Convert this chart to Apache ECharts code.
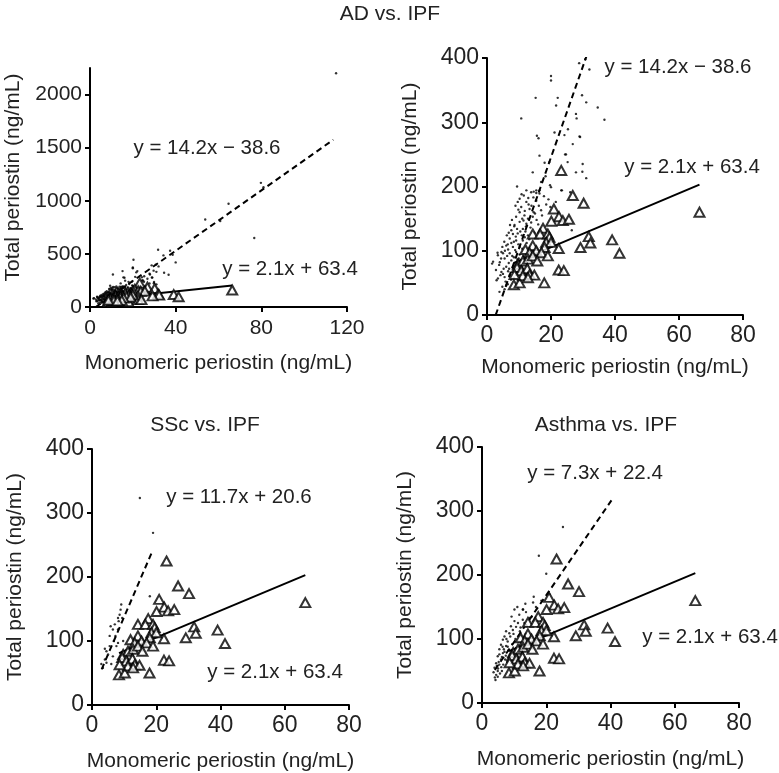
<!DOCTYPE html>
<html>
<head>
<meta charset="utf-8">
<script src="https://cdn.jsdelivr.net/npm/echarts@6/dist/echarts.min.js"></script>
<style>
html,body{margin:0;padding:0;background:#fff;}
#chart{width:779px;height:773px;}
</style>
</head>
<body>
<div id="chart"></div>
<script>
// ---------- DATA ----------
// IPF (triangles) – same in every panel
const ipfPoints = [
[23.2,225],[26.8,186],[30.2,174],[66.4,160],[20.9,165],[22.5,153],[23.7,147],[25.6,149],[20.1,146],
[31.8,122],[32.3,112],[29.2,105],[39.1,117],[41.4,96],[22.4,103.5],[22.4,70],[24.0,69],[17.9,50],
[8.4,47],[10.2,50],[17.5,135],[14.3,126],[16.6,126],[19.0,126],[19.5,121],[18.5,113],[20.0,113],
[18.0,105],[14.3,108],[12.0,102],[13.3,97],[15.4,100],[17.0,97],[19.0,92],[9.7,79],[11.2,84],
[12.8,87],[14.3,92],[15.7,84],[9.4,74],[10.7,69],[12.6,72],[13.3,63],[14.8,62],[11.2,61],[8.6,63],[12.8,58]
];
// AD (small dots)
const adPoints = [
[114.9,2200],[79.8,1169],[81.0,1128],[64.7,972],[53.8,824],[60.8,809],[76.7,649],[31.8,539],[37.4,530],
[38.6,492],[40.0,420],[20.3,445],[34.3,486],[28.8,392],
[30.7,398],[32.0,382],[20.0,372],[20.0,365],[15.2,338],[22.1,338],[29.7,342],[31.0,331],[21.6,326],
[34.6,323],[36.7,304],[10.7,306],[27.8,313],[28.0,306],[15.6,279],[16.1,275],[21.1,284],[24.2,280],
[28.9,278],[26.8,266],[16.4,248],[24.4,250],[18.0,237],[29.9,235],[14.3,222],[19.5,238],[25.2,238],
[27.8,222],[31.0,213],[16.9,207],[18.3,216],[19.7,202],[9.4,200],[23.4,194],[14.6,192],[15.4,190],
[16.4,194],[26.0,191],[26.5,132],[29.1,277],[25.3,289],[24.7,250],[29.8,223],
[12.3,194],[13.8,191],[15.4,194],[16.4,189],[20.0,199],[23.2,194],[11.5,186],[14.5,183],[17.8,185],[19.2,180],[21.5,176],
[10.2,181],[9.6,176],[12.3,176],[15.4,178],[13.0,172],[16.2,170],[18.5,172],[10.7,168],[13.3,165],[16.9,163],[11.8,162],[14.6,160],[19.8,168],[8.9,170],
[10.2,160],[11.7,155],[9.1,153],[14.3,153],[12.8,150],[15.5,148],[10.2,145],[12.3,142],[8.6,140],[13.8,144],[11.0,150],[17.2,155],[7.8,148],[16.0,141],
[11.2,134],[7.6,132],[9.6,127],[12.8,124],[8.5,138],[10.4,130],[13.6,136],[6.8,128],[9.0,122],[11.8,121],[14.8,128],[6.2,124],[12.2,138],[8.1,126],
[7.1,119],[9.1,116],[11.2,116],[6.0,108],[8.1,106],[10.2,106],[5.4,114],[7.6,112],[9.8,110],[12.4,112],[6.6,102],[8.8,101],[11.0,103],[4.8,106],[13.2,118],
[4.5,98],[7.1,96],[9.1,98],[1.9,83],[3.4,93],[5.5,88],[7.6,85],[4.0,82],[6.3,92],[8.4,90],[10.2,94],[5.0,96],[6.8,81],[3.3,97],[9.5,86],[11.4,92],
[6.0,75],[4.5,67],[3.4,57],[5.5,59],[7.1,62],[5.2,72],[3.8,78],[6.6,68],[8.0,74],[4.2,62],[7.5,55],[2.8,70],[5.8,52],[9.0,66],[1.6,80],[3.0,54],[6.0,46],[8.4,58],
[4.8,44],[5.5,40],[6.5,48],[3.9,36],
[10.8,188],[12.9,182],[9.8,164],[13.9,170],[15.0,158],[11.4,147],[9.4,134],[12.0,130],[7.2,140],[10.9,124],[8.4,114],[6.5,110],[5.6,100],[7.9,92],[4.4,88],[9.9,88],[6.9,72],[5.0,64]
];
// SSc (small dots)
const sscPoints = [
[14.9,323.5],[19.0,269],[18.0,170],[9.1,157],[8.9,149],[8.6,141],[8.1,136],[9.4,136],[7.1,126],[5.8,123],
[6.5,118],[8.1,118],[7.3,108],[5.5,108],[8.1,97],[5.5,92],[4.5,84],[5.0,79],[6.5,76],[4.0,71],[4.5,66],
[2.9,64],[3.4,58],[6.0,64],[7.6,92],[9.7,100],[8.3,131],[6.8,100],[4.0,88]
];
// Asthma (small dots)
const asthmaPoints = [
[17.7,230],[25.2,275],[20.0,202],[16.1,166],[15.9,157],[12.8,146],[10.1,146],[12.7,146],[13.7,142],[11.6,138],
[14.8,133],[10.1,128],[12.7,130],[9.0,120],[10.6,119],[7.5,112],[8.5,109],[7.0,104],[6.5,99],[8.0,96],[5.9,91],
[7.5,89],[5.4,84],[6.5,78],[4.9,73],[5.9,68],[4.4,62],[5.4,60],[3.9,55],[4.9,50],[4.4,44],[4.2,36],[4.9,41],
[11.2,125],[13.2,125],[9.6,114],[11.8,112],[8.8,104],[10.4,100],[12.0,105],[7.6,100],[9.4,92],[6.8,84],[8.2,82],
[10.6,86],[6.2,72],[7.4,74],[8.6,70],[5.2,64],[6.6,60],[7.8,64],[5.0,54],[6.2,50],[5.6,46],[4.6,58],[3.6,48],
[4.0,40],[14.0,120],[15.5,135],[12.0,118],[9.2,135],[11.0,150],[13.5,155],[16.8,150],[18.5,160],[21.0,170],
[10.0,80],[9.0,76],[7.2,68],[6.0,56],[8.0,88],[12.2,95],[13.6,108],[9.8,108],[11.4,96],[6.4,88],[5.4,76],[7.0,80]
];
// regression fits: [slope, intercept], [xStart, xEnd]
const ipfFit = [2.1, 63.4],   ipfRange = [8.4, 66.4];
const adFit = [14.2, -38.6],  adRange = [2.7, 113.6];
const sscFit = [11.7, 20.6],  sscRange = [3.0, 18.5];
const asthmaFit = [7.3, 22.4], asthmaRange = [4.0, 40.3];
// axis ticks
const xTicks120 = [0, 40, 80, 120];
const xTicks80 = [0, 20, 40, 60, 80];
const yTicks2000 = [0, 500, 1000, 1500, 2000];
const yTicks400 = [0, 100, 200, 300, 400];
// texts
const panelTitles = ['AD vs. IPF', 'SSc vs. IPF', 'Asthma vs. IPF'];
const xName = 'Monomeric periostin (ng/mL)';
const yName = 'Total periostin (ng/mL)';
const eqIPF = 'y = 2.1x + 63.4';
const eqAD = 'y = 14.2x \u2212 38.6';
const eqSSc = 'y = 11.7x + 20.6';
const eqAsthma = 'y = 7.3x + 22.4';

// ---------- CHART ----------
const FONT = '"Liberation Sans", Arial, Helvetica, sans-serif';
const TXT = '#222';
const FS = 21;
const EQFS = 20.5;

function fitLine(fit, range) {
  return range.map(x => [x, fit[0] * x + fit[1]]);
}

const grids = [
  {left: 90, top: 68, width: 257, height: 239},
  {left: 487, top: 58, width: 256, height: 257},
  {left: 92, top: 449, width: 257, height: 257},
  {left: 482, top: 447, width: 257, height: 256}
];

function plain(v) { return String(v); }

function xAxisDef(i, max, interval, ticks, tfs, margin, gap) {
  return {
    type: 'value', gridIndex: i, min: 0, max: max, interval: interval,
    splitLine: {show: false},
    axisLine: {show: true, onZero: false, lineStyle: {color: '#000', width: 2}},
    axisTick: {show: true, length: 5, lineStyle: {color: '#000', width: 2}, customValues: ticks},
    axisLabel: {color: TXT, fontSize: tfs, fontFamily: FONT, margin: margin, customValues: ticks, formatter: plain},
    name: xName, nameLocation: 'middle', nameGap: gap,
    nameTextStyle: {color: TXT, fontSize: FS, fontFamily: FONT}
  };
}
function yAxisDef(i, max, interval, ticks, tfs, pad) {
  return {
    type: 'value', gridIndex: i, min: 0, max: max, interval: interval,
    splitLine: {show: false},
    axisLine: {show: true, onZero: false, lineStyle: {color: '#000', width: 2}},
    axisTick: {show: true, length: 5, lineStyle: {color: '#000', width: 2}, customValues: ticks},
    axisLabel: {color: TXT, fontSize: tfs, fontFamily: FONT, margin: 8, customValues: ticks, formatter: plain},
    name: yName, nameLocation: 'middle', nameGap: 66,
    nameTextStyle: {color: TXT, fontSize: FS, fontFamily: FONT, padding: [0, 0, 0, pad]}
  };
}

const series = [];
function addPanel(i, dots, fit, range) {
  series.push({
    type: 'line', xAxisIndex: i, yAxisIndex: i, data: fitLine(fit, range),
    symbol: 'none', clip: true, silent: true, z: 2,
    lineStyle: {color: '#000', width: 2, type: [6, 4]}
  });
  series.push({
    type: 'scatter', xAxisIndex: i, yAxisIndex: i, data: dots,
    symbol: 'circle', symbolSize: 2.4, clip: true, z: 3,
    itemStyle: {color: '#000'}
  });
  series.push({
    type: 'line', xAxisIndex: i, yAxisIndex: i, data: fitLine(ipfFit, ipfRange),
    symbol: 'none', clip: true, silent: true, z: 4,
    lineStyle: {color: '#000', width: 2, type: 'solid'}
  });
  series.push({
    type: 'scatter', xAxisIndex: i, yAxisIndex: i, data: ipfPoints,
    symbol: 'triangle', symbolSize: [10, 9], clip: true, z: 5,
    itemStyle: {color: '#fff', borderColor: '#000', borderWidth: 2}
  });
}
addPanel(0, adPoints, adFit, adRange);
addPanel(1, adPoints, adFit, adRange);
addPanel(2, sscPoints, sscFit, sscRange);
addPanel(3, asthmaPoints, asthmaFit, asthmaRange);

function txt(x, y, s, size) {
  return {type: 'text', x: x, y: y, z: 100,
    style: {text: s, fill: TXT, font: (size || EQFS) + 'px ' + FONT, textAlign: 'center', textVerticalAlign: 'middle'}};
}

const option = {
  animation: false,
  backgroundColor: '#fff',
  grid: grids,
  xAxis: [
    xAxisDef(0, 120, 40, xTicks120, 21, 11, 46),
    xAxisDef(1, 80, 20, xTicks80, 23, 9, 42),
    xAxisDef(2, 80, 20, xTicks80, 23, 9, 46),
    xAxisDef(3, 80, 20, xTicks80, 23, 9, 46)
  ],
  yAxis: [
    yAxisDef(0, 2250, 500, yTicks2000, 21, 20),
    yAxisDef(1, 400, 100, yTicks400, 23, 0),
    yAxisDef(2, 400, 100, yTicks400, 23, 0),
    yAxisDef(3, 400, 100, yTicks400, 23, 0)
  ],
  series: series,
  graphic: [
    txt(390, 14, panelTitles[0], 21),
    txt(205, 425, panelTitles[1], 21),
    txt(606, 425, panelTitles[2], 21),
    txt(207, 148, eqAD),
    txt(290, 269, eqIPF),
    txt(678, 67, eqAD),
    txt(692, 167, eqIPF),
    txt(239, 497, eqSSc),
    txt(275, 672, eqIPF),
    txt(595, 473, eqAsthma),
    txt(710, 637, eqIPF)
  ]
};

const chart = echarts.init(document.getElementById('chart'), null, {renderer: 'canvas'});
chart.setOption(option);
</script>
</body>
</html>
